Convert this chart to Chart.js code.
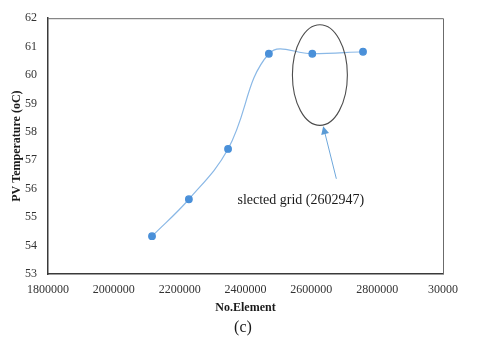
<!DOCTYPE html>
<html>
<head>
<meta charset="utf-8">
<script src="https://cdn.jsdelivr.net/npm/chart.js@4/dist/chart.umd.min.js"></script>
<style>
  html, body { margin: 0; padding: 0; background: #fff; }
  #wrap { width: 480px; height: 343px; }
</style>
</head>
<body>
<div id="wrap"><canvas id="chart" width="480" height="343"></canvas></div>
<script>
// data
const elements = [2116000, 2228000, 2347000, 2471000, 2602947, 2757000];
const pvTemp = [54.33, 55.63, 57.4, 60.75, 60.75, 60.82];
const xTickLabels = { 1800000: '1800000', 2000000: '2000000', 2200000: '2200000', 2400000: '2400000',
                      2600000: '2600000', 2800000: '2800000', 3000000: '30000' };

// selected grid annotation (data units)
const ellipseCenter = [2626000, 60.0];
const ellipseRadius = [83500, 1.77];
const arrowTail = [2676000, 56.35];
const arrowTip = [2636000, 58.2];
const noteAnchor = [2568000, 55.6];
const noteText = 'slected grid (2602947)';

const serif = "'Liberation Serif', 'DejaVu Serif', serif";

const annotate = {
    id: 'annotate',
    afterDatasetsDraw(chart) {
        const { ctx, chartArea, scales } = chart;
        const px = v => scales.x.getPixelForValue(v);
        const py = v => scales.y.getPixelForValue(v);

        ctx.save();
        // top + right frame
        ctx.strokeStyle = '#6b6b6b';
        ctx.lineWidth = 1;
        ctx.beginPath();
        ctx.moveTo(chartArea.left, chartArea.top + 0.5);
        ctx.lineTo(chartArea.right + 0.5, chartArea.top + 0.5);
        ctx.lineTo(chartArea.right + 0.5, chartArea.bottom);
        ctx.stroke();

        // ellipse
        const cx = px(ellipseCenter[0]), cy = py(ellipseCenter[1]);
        const rx = px(ellipseCenter[0] + ellipseRadius[0]) - cx;
        const ry = cy - py(ellipseCenter[1] + ellipseRadius[1]);
        ctx.strokeStyle = '#4d4d4d';
        ctx.lineWidth = 1.1;
        ctx.beginPath();
        ctx.ellipse(cx, cy, rx, ry, 0, 0, Math.PI * 2);
        ctx.stroke();

        // arrow
        const x0 = px(arrowTail[0]), y0 = py(arrowTail[1]);
        const x1 = px(arrowTip[0]), y1 = py(arrowTip[1]);
        const ang = Math.atan2(y1 - y0, x1 - x0);
        ctx.strokeStyle = '#6fa8dc';
        ctx.fillStyle = '#5b9bd5';
        ctx.lineWidth = 1;
        ctx.beginPath();
        ctx.moveTo(x0, y0);
        ctx.lineTo(x1 - 6 * Math.cos(ang), y1 - 6 * Math.sin(ang));
        ctx.stroke();
        ctx.beginPath();
        ctx.moveTo(x1, y1);
        ctx.lineTo(x1 - 8 * Math.cos(ang) + 4 * Math.sin(ang), y1 - 8 * Math.sin(ang) - 4 * Math.cos(ang));
        ctx.lineTo(x1 - 8 * Math.cos(ang) - 4 * Math.sin(ang), y1 - 8 * Math.sin(ang) + 4 * Math.cos(ang));
        ctx.closePath();
        ctx.fill();

        // note
        ctx.fillStyle = '#1a1a1a';
        ctx.font = '14px ' + serif;
        ctx.textAlign = 'center';
        ctx.textBaseline = 'middle';
        ctx.fillText(noteText, px(noteAnchor[0]), py(noteAnchor[1]));

        // panel label
        ctx.font = '16px ' + serif;
        ctx.fillText('(c)', 243, 328);
        ctx.restore();
    }
};

new Chart(document.getElementById('chart'), {
    type: 'line',
    data: {
        datasets: [{
            data: elements.map((x, i) => ({ x: x, y: pvTemp[i] })),
            borderColor: '#8ab8e6',
            borderWidth: 1.2,
            backgroundColor: '#4a90d9',
            pointBackgroundColor: '#4a90d9',
            pointBorderColor: '#4a90d9',
            pointRadius: 3.3,
            tension: 0.4,
            fill: false
        }]
    },
    options: {
        responsive: false,
        animation: false,
        layout: { padding: { left: 6, right: 37, top: 17, bottom: 24 } },
        plugins: { legend: { display: false }, tooltip: { enabled: false } },
        scales: {
            x: {
                type: 'linear',
                min: 1800000,
                max: 3000000,
                grid: { display: false, drawTicks: false },
                border: { display: true, color: '#3a3a3a', width: 1.5 },
                ticks: {
                    stepSize: 200000,
                    padding: 9,
                    color: '#333',
                    font: { family: serif, size: 12 },
                    callback: v => xTickLabels[v] || ''
                },
                title: {
                    display: true,
                    text: 'No.Element',
                    color: '#1a1a1a',
                    font: { family: serif, size: 12, weight: 'bold' },
                    padding: { top: 2, bottom: 4 }
                },
                afterFit: s => { s.height = 45; }
            },
            y: {
                min: 53,
                max: 62,
                grid: { display: false, drawTicks: false },
                border: { display: true, color: '#3a3a3a', width: 1.5 },
                ticks: {
                    stepSize: 1,
                    padding: 11,
                    color: '#333',
                    font: { family: serif, size: 12 }
                },
                title: {
                    display: true,
                    text: 'PV Temperature (oC)',
                    color: '#1a1a1a',
                    font: { family: serif, size: 12, weight: 'bold' },
                    padding: { top: 4, bottom: 4 }
                },
                afterFit: s => { s.width = 42; }
            }
        }
    },
    plugins: [annotate]
});
</script>
</body>
</html>
